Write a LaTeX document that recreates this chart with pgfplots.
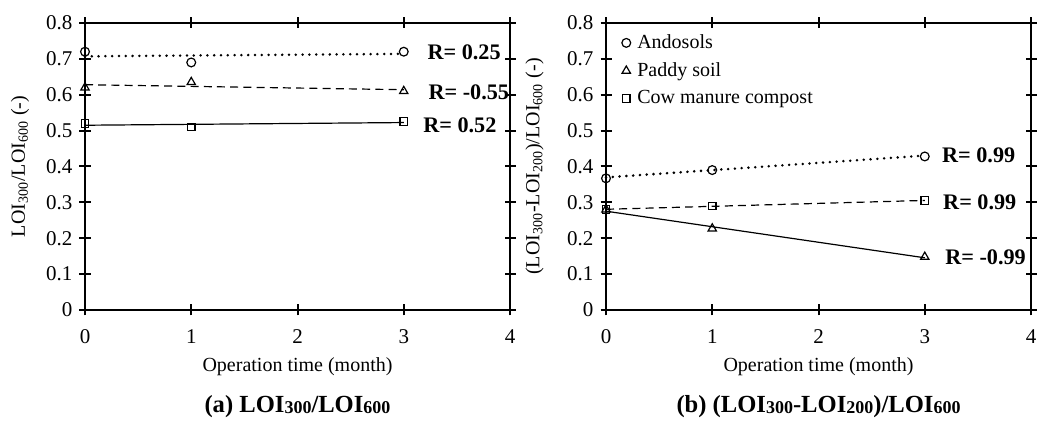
\documentclass[border=0pt]{standalone}
\usepackage{fontspec}
\setmainfont{Liberation Serif}
\usepackage{pgfplots}
\pgfplotsset{compat=1.18}

\pgfplotsset{
  panel/.style={
    scale only axis, width=212.5pt, height=143.5pt,
    xmin=0, xmax=4, ymin=0, ymax=0.8,
    xtick={0,1,...,4}, ytick={0,0.1,...,0.8},
    tick align=center, major tick length=5.5pt,
    axis line style={line width=1pt},
    every tick/.style={black, line width=1pt},
    tick label style={font=\fontsize{10.5}{12}\selectfont},
    xticklabel style={yshift=-3.5pt},
    /pgf/number format/assume math mode=true,
    label style={font=\fontsize{10}{12}\selectfont},
    xlabel style={at={(axis description cs:0.5,-0.196)}, anchor=center},
    clip=false,
  },
  pts/.style={only marks, mark options={solid, fill=white, line width=0.6pt}},
}
\tikzset{
  dotl/.style={line width=1.4pt, dash pattern=on 0pt off 3.4pt, line cap=round},
  dashl/.style={line width=0.6pt, dash pattern=on 4pt off 2.6pt},
  solidl/.style={line width=0.6pt},
  rlab/.style={anchor=west, inner sep=0pt, font=\bfseries\fontsize{11.1}{13}\selectfont},
}
\newcommand{\sm}[1]{{\fontsize{9}{10}\selectfont\raisebox{-0.4pt}{#1}}}

\begin{document}
\begin{tikzpicture}
\useasboundingbox (0,0) rectangle (518.5pt,-210.5pt);

% (a)
\begin{axis}[panel, at={(42.5pt,-11.5pt)}, anchor=north west,
  xlabel={Operation time (month)},
  ylabel={LOI$_{\mathrm{300}}$/LOI$_{\mathrm{600}}$ (-)},
  ylabel style={at={(axis description cs:-0.153,0.5)}, anchor=center},
]
  % trend lines
  \addplot[dotl] coordinates {(0,0.707) (3,0.714)};
  \addplot[dashl] coordinates {(0,0.628) (3,0.614)};
  \addplot[solidl] coordinates {(0,0.515) (3,0.5225)};
  % measured
  \addplot[pts, mark=o, mark size=2.2pt] coordinates {(0,0.72) (1,0.69) (3,0.72)};
  \addplot[pts, mark=triangle, mark size=2.4pt] coordinates {(0,0.62) (1,0.635) (3,0.61)};
  \addplot[pts, mark=square, mark size=1.9pt] coordinates {(0,0.52) (1,0.51) (3,0.525)};
  \node[rlab] at (axis cs:3.22,0.719) {R= 0.25};
  \node[rlab] at (axis cs:3.23,0.608) {R= -0.55};
  \node[rlab] at (axis cs:3.18,0.516) {R= 0.52};
  \node[font=\bfseries\fontsize{12.3}{14}\selectfont] at (axis description cs:0.5,-0.338)
    {(a) LOI\sm{300}/LOI\sm{600}};
\end{axis}

% (b)
\begin{axis}[panel, at={(303pt,-11.5pt)}, anchor=north west,
  xlabel={Operation time (month)},
  ylabel={(LOI$_{\mathrm{300}}$-LOI$_{\mathrm{200}}$)/LOI$_{\mathrm{600}}$ (-)},
  ylabel style={at={(axis description cs:-0.168,0.5)}, anchor=center},
  legend style={draw=none, fill=none, at={(axis description cs:0.035,0.965)}, anchor=north west,
    font=\fontsize{10}{12}\selectfont, row sep=4.5pt, inner sep=0pt,
    nodes={inner sep=0.5pt}},
  legend cell align=left,
  legend image code/.code={\draw[#1] plot coordinates {(0pt,0pt)};
    \path[draw=none] (-2.5pt,0pt) -- (5pt,0pt);},
]
  \addplot[dotl, forget plot] coordinates {(0,0.3696) (3,0.4305)};
  \addplot[solidl, forget plot] coordinates {(0,0.2754) (3,0.1455)};
  \addplot[dashl, forget plot] coordinates {(0,0.2807) (3,0.3054)};
  \addplot[pts, mark=o, mark size=2.2pt] coordinates {(0,0.367) (1,0.39) (3,0.428)};
  \addlegendentry{Andosols}
  \addplot[pts, mark=triangle, mark size=2.4pt] coordinates {(0,0.28) (1,0.227) (3,0.148)};
  \addlegendentry{Paddy soil}
  \addplot[pts, mark=square, mark size=1.9pt] coordinates {(0,0.28) (1,0.29) (3,0.305)};
  \addlegendentry{Cow manure compost}
  \node[rlab] at (axis cs:3.16,0.43) {R= 0.99};
  \node[rlab] at (axis cs:3.17,0.301) {R= 0.99};
  \node[rlab] at (axis cs:3.19,0.146) {R= -0.99};
  \node[font=\bfseries\fontsize{12.3}{14}\selectfont] at (axis description cs:0.5,-0.338)
    {(b) (LOI\sm{300}-LOI\sm{200})/LOI\sm{600}};
\end{axis}
\end{tikzpicture}
\end{document}
